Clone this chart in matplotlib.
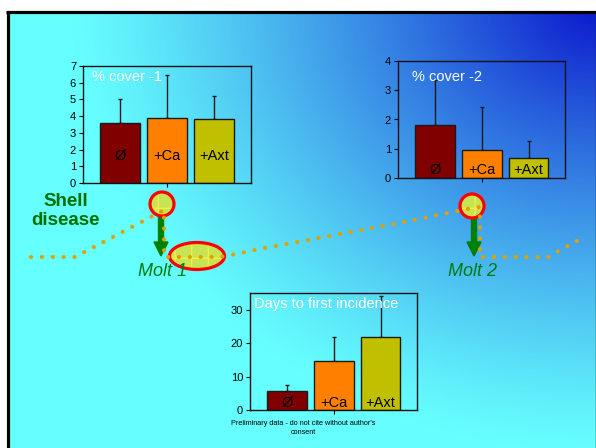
import numpy as np
import matplotlib.pyplot as plt
from matplotlib.patches import Circle, Ellipse, FancyArrow

plt.rcParams['font.family'] = ['Liberation Sans', 'DejaVu Sans']

# bar data for the three small charts
groups = ['Ø', '+Ca', '+Axt']
bar_colors = ['#800000', '#FF8000', '#C0C000']

cover1_mean = [3.6, 3.9, 3.85]
cover1_top = [5.05, 6.45, 5.2]
cover2_mean = [1.8, 0.97, 0.68]
cover2_top = [3.35, 2.42, 1.25]
days_mean = [5.8, 14.8, 21.7]
days_top = [7.5, 21.7, 34.0]

# dotted "shell condition" curve, in slide pixels
curve_x = [31, 75, 164, 164, 220, 236, 264, 303, 409, 467, 480, 480, 548, 555, 564, 573, 582]
curve_y = [257, 257, 210, 257, 257, 254, 248, 241, 221, 209, 207, 257, 257, 253, 248, 243, 238]

W, H = 596, 448
fig = plt.figure(figsize=(W / 100, H / 100), dpi=100, facecolor='white')

# slide background
bg = fig.add_axes([0, 0, 1, 1])
bg.set_xlim(0, W)
bg.set_ylim(H, 0)
bg.axis('off')

yy, xx = np.mgrid[0:H, 0:W]
d = np.hypot((xx - 600.0) * 0.85, yy - 0.0)
t = np.clip(1 - d / 450.0, 0, 1) ** 1.2
cyan = np.array([102, 255, 255]) / 255
blue = np.array([10, 20, 204]) / 255
img = cyan[None, None, :] * (1 - t[..., None]) + blue[None, None, :] * t[..., None]
bg.imshow(img, extent=[0, W, H, 0], aspect='auto', zorder=0)
bg.add_patch(plt.Rectangle((0, 0), W, 11, color='white', zorder=1))
bg.add_patch(plt.Rectangle((0, 0), 6, H, color='white', zorder=1))
bg.plot([6, W], [12, 12], color='black', lw=2.3, zorder=2, solid_capstyle='butt')
bg.plot([7.5, 7.5], [11, H], color='black', lw=2.3, zorder=2, solid_capstyle='butt')
bg.plot([595.5, 595.5], [11, H], color='#103040', lw=1, zorder=2)

fill = '#C8E455'
bg.add_patch(Ellipse((197, 256), 55, 27, facecolor=fill, edgecolor='#F0F040',
                     hatch='+', lw=0, zorder=3))
bg.add_patch(Ellipse((197, 256), 55, 27, facecolor='none', edgecolor='red', lw=2.3, zorder=3))

green = '#008000'
bg.add_patch(FancyArrow(161, 215, 0, 41, width=5, head_width=14, head_length=14,
                        length_includes_head=True, color=green, zorder=4))
bg.add_patch(FancyArrow(474, 217, 0, 39, width=5, head_width=14, head_length=14,
                        length_includes_head=True, color=green, zorder=4))

for cx, cy in [(162, 204), (472, 206)]:
    bg.add_patch(Circle((cx, cy), 12, facecolor=fill, edgecolor='#F0F040',
                        hatch='+', lw=0, zorder=5))
    bg.add_patch(Circle((cx, cy), 12, facecolor='none', edgecolor='red', lw=2.3, zorder=5))

bg.plot(curve_x, curve_y, color='#E0A000', lw=3, ls=(0, (0.01, 2.6)),
        dash_capstyle='round', zorder=6)

bg.text(66, 211, 'Shell\ndisease', color='#007000', fontsize=13.5, fontweight='bold',
        ha='center', va='center', linespacing=1.15)
bg.text(163, 272, 'Molt 1', color='#007A10', fontsize=13, style='italic',
        ha='center', va='center')
bg.text(473, 272, 'Molt 2', color='#007A10', fontsize=13, style='italic',
        ha='center', va='center')
bg.text(303, 428, "Preliminary data - do not cite without author's\nconsent",
        fontsize=5.2, ha='center', va='center', linespacing=1.3)


def bar_panel(box, means, tops, ymax, yticks, title, title_off, label_y):
    l, top, r, b = box
    ax = fig.add_axes([l / W, 1 - b / H, (r - l) / W, (b - top) / H])
    ax.patch.set_alpha(0)
    x = np.arange(len(means))
    upper = np.array(tops) - np.array(means)
    ax.bar(x, means, width=0.85, color=bar_colors, edgecolor='#1a1a1a', lw=1, zorder=2)
    ax.errorbar(x, means, yerr=[np.zeros(len(means)), upper], fmt='none',
                ecolor='#1a1a1a', elinewidth=1, capsize=1.5, capthick=1, zorder=1)
    for xi, g in zip(x, groups):
        ax.text(xi, label_y, g, ha='center', va='center', fontsize=10.5, zorder=3)
    ax.set_xlim(-0.79, 2.78)
    ax.set_ylim(0, ymax)
    ax.set_yticks(yticks)
    ax.set_xticks([1])
    ax.set_xticklabels([''])
    ax.tick_params(direction='out', length=3, width=0.8, labelsize=8, pad=2)
    for s in ax.spines.values():
        s.set_linewidth(1)
        s.set_color('#111111')
    ax.annotate(title, xy=(0, 1), xycoords='axes fraction', xytext=title_off,
                textcoords='offset pixels', color='white', fontsize=10.5,
                ha='left', va='center')
    return ax


bar_panel((83, 66, 251, 183), cover1_mean, cover1_top, 7, range(8),
          '% cover -1', (9, -11), 1.6)
bar_panel((398, 61, 565, 178), cover2_mean, cover2_top, 4, range(5),
          '% cover -2', (14, -16), 0.27)
bar_panel((250, 293, 417, 410), days_mean, days_top, 35, [0, 10, 20, 30],
          'Days to first incidence', (4, -11), 2.1)

fig.savefig('out.png', dpi=100, facecolor='white')
